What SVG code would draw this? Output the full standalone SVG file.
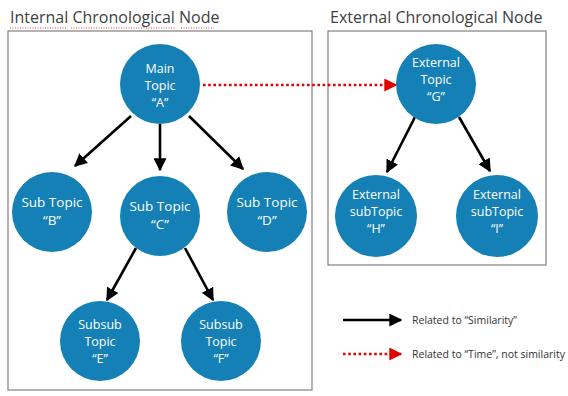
<svg xmlns="http://www.w3.org/2000/svg" width="568" height="396" viewBox="0 0 568 396">
<defs>
<style>
.box{fill:none;stroke:#7f7f7f;stroke-width:1.2}
.title{font-family:"Open Sans","DejaVu Sans",sans-serif;font-size:16px;fill:#404040}
.node circle{fill:#1480b6}
.node text{font-family:"Open Sans","DejaVu Sans",sans-serif;font-size:12.5px;fill:#ffffff;text-anchor:middle}
.node text.big{font-size:13.5px}
.sim{stroke:#000;stroke-width:2.6;fill:none;marker-end:url(#blk)}
.time{stroke:#e00000;stroke-width:2.6;fill:none;stroke-dasharray:2.6 2.6;marker-end:url(#red)}
.leg{font-family:"Open Sans","DejaVu Sans",sans-serif;font-size:10.5px;fill:#333}
.squig{stroke:#e04040;stroke-width:1;stroke-dasharray:1 1.5;fill:none}
</style>
<marker id="blk" viewBox="0 0 10 10" refX="9" refY="5" markerWidth="5" markerHeight="5" orient="auto" markerUnits="strokeWidth"><path d="M0,0 L10,5 L0,10 Z" fill="#000"/></marker>
<marker id="red" viewBox="0 0 10 10" refX="9" refY="5" markerWidth="5" markerHeight="5" orient="auto" markerUnits="strokeWidth"><path d="M0,0 L10,5 L0,10 Z" fill="#e00000"/></marker>
</defs>
<rect width="568" height="396" fill="#ffffff"/>
<text class="title" x="10" y="23">Internal Chronological Node</text>
<line class="squig" x1="10" y1="28" x2="66" y2="28"/>
<line class="squig" x1="71" y1="28" x2="176" y2="28"/>
<line class="squig" x1="181" y1="28" x2="214" y2="28"/>
<text class="title" x="330" y="23">External Chronological Node</text>
<rect class="box" x="8" y="31" width="304" height="359"/>
<rect class="box" x="328" y="31" width="218" height="234"/>
<g id="connectors">
<line class="sim" x1="131" y1="116" x2="75" y2="166"/>
<line class="sim" x1="160" y1="124" x2="160" y2="170"/>
<line class="sim" x1="189" y1="116" x2="243" y2="169"/>
<line class="sim" x1="136" y1="248" x2="107" y2="300"/>
<line class="sim" x1="185" y1="248" x2="213" y2="300"/>
<line class="sim" x1="415" y1="117" x2="387" y2="172"/>
<line class="sim" x1="459" y1="117" x2="490" y2="171"/>
<line class="time" x1="203" y1="85" x2="396" y2="85"/>
</g>
<g id="node-A" class="node"><circle cx="160" cy="84" r="40"/><text x="160" y="73">Main</text><text x="160" y="90">Topic</text><text x="160" y="107">“A”</text></g>
<g id="node-B" class="node"><circle cx="52" cy="212" r="40"/><text class="big" x="52" y="207">Sub Topic</text><text class="big" x="52" y="225">“B”</text></g>
<g id="node-C" class="node"><circle cx="160" cy="216" r="40"/><text class="big" x="160" y="211">Sub Topic</text><text class="big" x="160" y="229">“C”</text></g>
<g id="node-D" class="node"><circle cx="267" cy="212" r="40"/><text class="big" x="267" y="207">Sub Topic</text><text class="big" x="267" y="225">“D”</text></g>
<g id="node-E" class="node"><circle cx="100" cy="341" r="40"/><text x="100" y="329">Subsub</text><text x="100" y="346">Topic</text><text x="100" y="363">“E”</text></g>
<g id="node-F" class="node"><circle cx="221" cy="341" r="40"/><text x="221" y="329">Subsub</text><text x="221" y="346">Topic</text><text x="221" y="363">“F”</text></g>
<g id="node-G" class="node"><circle cx="436" cy="84" r="40"/><text x="436" y="67">External</text><text x="436" y="84">Topic</text><text x="436" y="101">“G”</text></g>
<g id="node-H" class="node"><circle cx="376" cy="216" r="41"/><text x="376" y="199">External</text><text x="376" y="216">subTopic</text><text x="376" y="233">“H”</text></g>
<g id="node-I" class="node"><circle cx="497" cy="216" r="41"/><text x="497" y="199">External</text><text x="497" y="216">subTopic</text><text x="497" y="233">“I”</text></g>
<g id="legend">
<line class="sim" x1="343" y1="320" x2="401" y2="320"/>
<text class="leg" x="412" y="324">Related to “Similarity”</text>
<line class="time" x1="343" y1="354" x2="401" y2="354"/>
<text class="leg" x="412" y="358">Related to “Time”, not similarity</text>
</g>
</svg>
